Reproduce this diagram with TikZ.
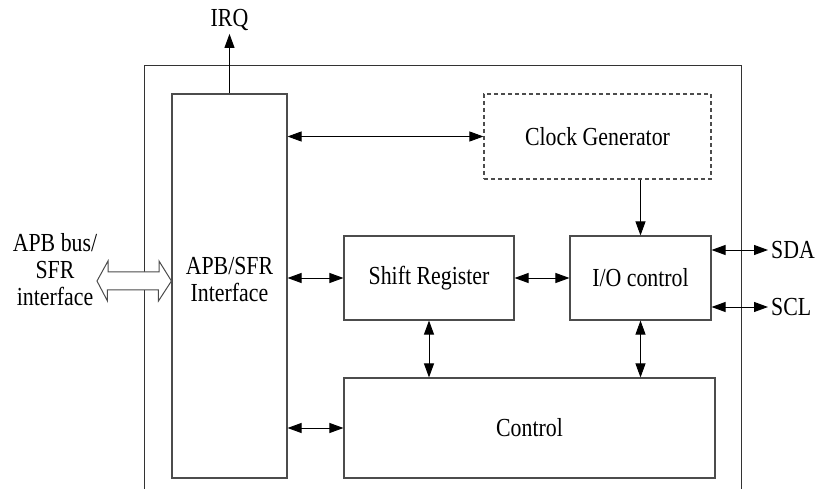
\documentclass[tikz,border=0pt]{standalone}
\usepackage{fontspec}
\setmainfont[FakeStretch=0.84]{Liberation Serif}
\usetikzlibrary{arrows.meta}

\begin{document}
\begin{tikzpicture}[x=1pt, y=-1pt,
    font=\fontsize{26}{27}\selectfont,
    block/.style={draw=black!70, line width=1.1pt, rectangle, inner sep=0pt},
    link/.style={line width=0.9pt, {Triangle[length=14pt,width=10pt]}-{Triangle[length=14pt,width=10pt]}},
    onelink/.style={line width=0.9pt, -{Triangle[length=14pt,width=10pt]}},
    label/.style={inner sep=3pt}]
  \useasboundingbox (0,0) rectangle (831,489);
  \draw[black!80, line width=1pt] (144,489) |- (741,66) -- (741,489);

  \node[block, minimum width=115pt, minimum height=384pt] (apb) at (229.5,286) {};
  \node at (229.5,280) [align=center] (apb-text) {APB/SFR\\Interface};
  \node[block, dash pattern=on 4pt off 3pt, minimum width=227pt, minimum height=85pt] (clock) at (597.5,136.5) {Clock Generator};
  \node[block, minimum width=170pt, minimum height=84pt] (shift) at (429,278) {Shift Register};
  \node[block, minimum width=141pt, minimum height=84pt] (ioctl) at (640.5,278) {I/O control};
  \node[block, minimum width=371pt, minimum height=100pt] (ctrl) at (529.5,428) {Control};

  \node[label] (irq) at (229.5,20) {IRQ};
  \node[label, anchor=west] (sda) at (768,250) {SDA};
  \node[label, anchor=west] (scl) at (768,307) {SCL};
  \node[align=center] (bus) at (55,270) {APB bus/\\SFR\\interface};
  \coordinate (bus-tip) at (97,281);

  \draw[onelink] (apb.north) -- (irq.south);
  \draw[link] (apb.east |- clock.west) -- (clock.west);
  \draw[onelink] (ioctl.north |- clock.south) -- (ioctl.north);
  \draw[link] (apb.east |- shift.west) -- (shift.west);
  \draw[link] (shift.east) -- (ioctl.west);
  \draw[link] (shift.south) -- (shift.south |- ctrl.north);
  \draw[link] (ioctl.south) -- (ioctl.south |- ctrl.north);
  \draw[link] (apb.east |- ctrl.west) -- (ctrl.west);
  \draw[link] (ioctl.east |- sda.west) -- (sda.west);
  \draw[link] (ioctl.east |- scl.west) -- (scl.west);

  \draw[black!70, line width=1pt, fill=white] (bus-tip) -- ++(11,-20) -- ++(0,11) -- ++(51,0) -- ++(0,-11)
    -- (apb.west |- bus-tip) -- ++(-13,20) -- ++(0,-11) -- ++(-51,0) -- ++(0,11) -- cycle;
\end{tikzpicture}
\end{document}
